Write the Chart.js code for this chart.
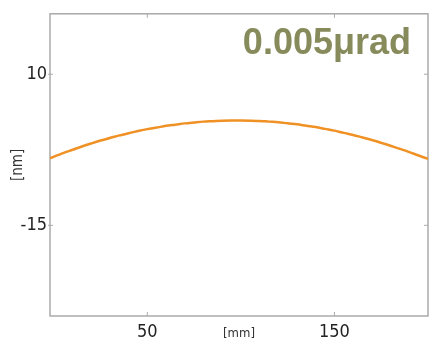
<!DOCTYPE html>
<html>
<head>
<meta charset="utf-8">
<script src="https://cdn.jsdelivr.net/npm/chart.js@4/dist/chart.umd.min.js"></script>
<style>
  html, body { margin: 0; padding: 0; background: #fff; }
  #wrap { width: 438px; height: 344px; }
</style>
</head>
<body>
<div id="wrap"><canvas id="grafico" width="438" height="344"></canvas></div>
<script>
// posiciones [mm] y altura [nm]
const posMm = [-2, 5, 10, 15, 20, 25, 30, 35, 40, 45, 50, 55, 60, 65, 70, 75, 80, 85, 90, 95, 100,
               105, 110, 115, 120, 125, 130, 135, 140, 145, 150, 155, 160, 165, 170, 175, 180, 185, 190, 195, 200];
const alturaNm = [-3.9, -3.05, -2.5, -1.95, -1.45, -0.97, -0.55, -0.12, 0.25, 0.6, 0.92, 1.18, 1.46, 1.66, 1.87, 2.02, 2.16, 2.23, 2.31, 2.34, 2.35,
                  2.32, 2.27, 2.16, 2.06, 1.88, 1.72, 1.48, 1.26, 0.96, 0.67, 0.3, -0.04, -0.46, -0.88, -1.35, -1.84, -2.35, -2.88, -3.45, -4.0];
const ticksX = [50, 150];
const ticksY = [10, -15];
const etiqueta = "0.005μrad";

const fuenteNarrow = "'Liberation Sans Narrow', 'DejaVu Sans Condensed', 'Arial Narrow', sans-serif";

// marco gris y marcas hacia adentro
const marcoPlugin = {
    id: "marco",
    beforeDatasetsDraw(chart) {
        const { ctx, chartArea: a, scales } = chart;
        ctx.save();
        ctx.strokeStyle = "#aaaaaa";
        ctx.lineWidth = 1.5;
        ctx.strokeRect(a.left, a.top, a.right - a.left, a.bottom - a.top);
        ctx.lineWidth = 1;
        ctx.beginPath();
        ticksX.forEach(v => {
            const px = scales.x.getPixelForValue(v);
            ctx.moveTo(px, a.top); ctx.lineTo(px, a.top + 4);
            ctx.moveTo(px, a.bottom); ctx.lineTo(px, a.bottom - 4);
        });
        ticksY.forEach(v => {
            const py = scales.y.getPixelForValue(v);
            ctx.moveTo(a.left - 2, py); ctx.lineTo(a.left + 3, py);
            ctx.moveTo(a.right, py); ctx.lineTo(a.right - 4, py);
        });
        ctx.stroke();
        ctx.restore();
    },
    afterDraw(chart) {
        const { ctx, chartArea: a } = chart;
        ctx.save();
        ctx.font = "bold 36px 'Liberation Sans', Arial, sans-serif";
        ctx.fillStyle = "#878b5b";
        ctx.textAlign = "right";
        ctx.textBaseline = "alphabetic";
        ctx.fillText(etiqueta, a.right - 17, a.top + 40);
        ctx.restore();
    }
};

new Chart(document.getElementById("grafico"), {
    type: "line",
    data: {
        datasets: [{
            data: posMm.map((x, i) => ({ x: x, y: alturaNm[i] })),
            borderColor: "#ef9124",
            borderWidth: 2.5,
            pointRadius: 0,
            tension: 0.3,
            fill: false
        }]
    },
    options: {
        responsive: false,
        animation: false,
        devicePixelRatio: 1,
        layout: { padding: { top: 9, right: 10, left: 0, bottom: 0 } },
        plugins: { legend: { display: false }, tooltip: { enabled: false } },
        scales: {
            x: {
                type: "linear",
                min: -2,
                max: 200,
                grid: { display: false, drawTicks: false },
                border: { display: false },
                afterBuildTicks: s => { s.ticks = ticksX.map(v => ({ value: v })); },
                afterFit: s => { s.height = 28; },
                ticks: { color: "#222", font: { family: fuenteNarrow, size: 18 }, padding: 6, maxRotation: 0 },
                title: { display: true, text: "[mm]", color: "#333", font: { family: fuenteNarrow, size: 13 }, padding: { top: 0, bottom: 3 } }
            },
            y: {
                type: "linear",
                min: -30,
                max: 20,
                grid: { display: false, drawTicks: false },
                border: { display: false },
                afterBuildTicks: s => { s.ticks = ticksY.map(v => ({ value: v })); },
                afterFit: s => { s.width = 50; },
                ticks: { color: "#222", font: { family: fuenteNarrow, size: 18 }, padding: 3 },
                title: { display: true, text: "[nm]", color: "#333", font: { family: fuenteNarrow, size: 15 }, padding: { top: 9, bottom: 0 } }
            }
        }
    },
    plugins: [marcoPlugin]
});
</script>
</body>
</html>
